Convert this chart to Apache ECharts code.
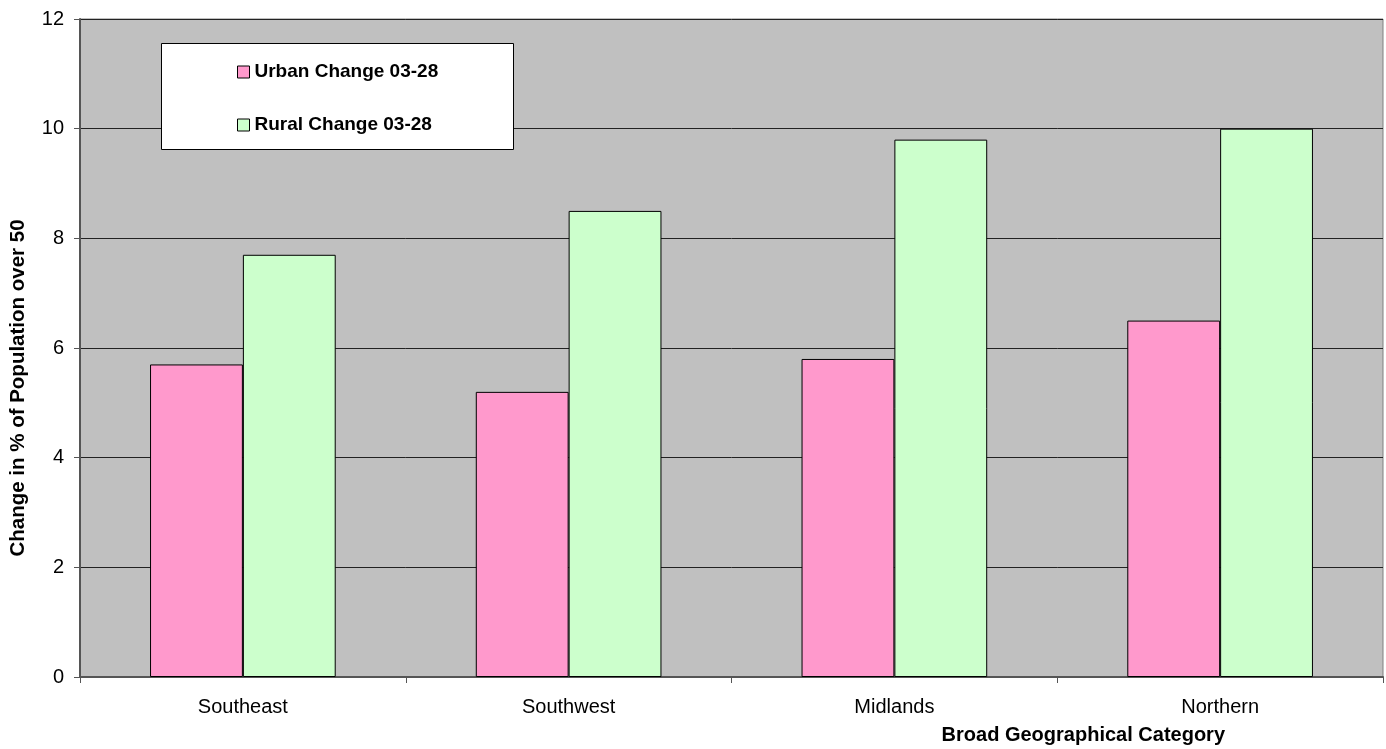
<!DOCTYPE html>
<html>
<head>
<meta charset="utf-8">
<title>Change in % of Population over 50</title>
<script src="https://cdn.jsdelivr.net/npm/echarts@6/dist/echarts.min.js"></script>
<style>
  html, body { margin: 0; padding: 0; background: #ffffff; }
  #chart { width: 1386px; height: 749px; }
</style>
</head>
<body>
<div id="chart"></div>
<script>
// Regions along the x axis
const categories = ['Southeast', 'Southwest', 'Midlands', 'Northern'];
// Change in share of population over 50, 2003 to 2028 (percentage points)
const urbanChange = [5.7, 5.2, 5.8, 6.5];
const ruralChange = [7.7, 8.5, 9.8, 10.0];
const seriesNames = ['Urban Change 03-28', 'Rural Change 03-28'];
const yTicks = { min: 0, max: 12, step: 2 };

const FONT = '"Liberation Sans", Arial, sans-serif';

const chart = echarts.init(document.getElementById('chart'), null, { renderer: 'canvas' });

chart.setOption({
  animation: false,
  backgroundColor: '#ffffff',
  textStyle: { fontFamily: FONT, color: '#000' },
  grid: {
    left: 80, top: 19, right: 3, bottom: 72,
    containLabel: false,
    outerBoundsMode: 'none',
    show: true,
    backgroundColor: '#c0c0c0',
    borderColor: '#808080',
    borderWidth: 1
  },
  // white box behind the legend entries
  graphic: [{
    type: 'rect',
    z: 5,
    shape: { x: 161.5, y: 43.5, width: 352, height: 106 },
    style: { fill: '#ffffff', stroke: '#000000', lineWidth: 1 }
  }],
  legend: {
    z: 10,
    orient: 'vertical',
    left: 237,
    top: 62,
    icon: 'rect',
    itemWidth: 12,
    itemHeight: 12,
    itemGap: 33,
    padding: 0,
    itemStyle: { borderColor: '#000', borderWidth: 1 },
    textStyle: { fontFamily: FONT, fontSize: 19, fontWeight: 'bold', color: '#000', lineHeight: 20 },
    data: seriesNames
  },
  xAxis: {
    type: 'category',
    data: categories,
    axisLine: { lineStyle: { color: '#555555', width: 2 } },
    axisTick: { show: true, length: 6, lineStyle: { color: '#555555', width: 1 } },
    axisLabel: { fontFamily: FONT, fontSize: 20, color: '#000', margin: 20 },
    name: 'Broad Geographical Category',
    nameLocation: 'end',
    nameGap: -158,
    nameTextStyle: {
      fontFamily: FONT, fontSize: 20, fontWeight: 'bold', color: '#000',
      align: 'right', verticalAlign: 'top', padding: [48, 0, 0, 0]
    }
  },
  yAxis: {
    type: 'value',
    min: yTicks.min,
    max: yTicks.max,
    interval: yTicks.step,
    axisLine: { show: true, lineStyle: { color: '#555555', width: 2 } },
    axisTick: { show: true, length: 6, lineStyle: { color: '#555555' } },
    axisLabel: { fontFamily: FONT, fontSize: 20, color: '#000', margin: 16 },
    splitLine: { show: true, lineStyle: { color: '#222222', width: 1 } },
    name: 'Change in % of Population over 50',
    nameLocation: 'middle',
    nameGap: 51,
    nameTextStyle: {
      fontFamily: FONT, fontSize: 20.5, fontWeight: 'bold', color: '#000',
      padding: [0, 80, 0, 0]
    }
  },
  series: [
    {
      name: seriesNames[0],
      type: 'bar',
      data: urbanChange,
      barWidth: '28.5%',
      barGap: '0%',
      itemStyle: { color: '#ff99cc', borderColor: '#000', borderWidth: 1 }
    },
    {
      name: seriesNames[1],
      type: 'bar',
      data: ruralChange,
      barWidth: '28.5%',
      barGap: '0%',
      itemStyle: { color: '#ccffcc', borderColor: '#000', borderWidth: 1 }
    }
  ]
});
</script>
</body>
</html>
